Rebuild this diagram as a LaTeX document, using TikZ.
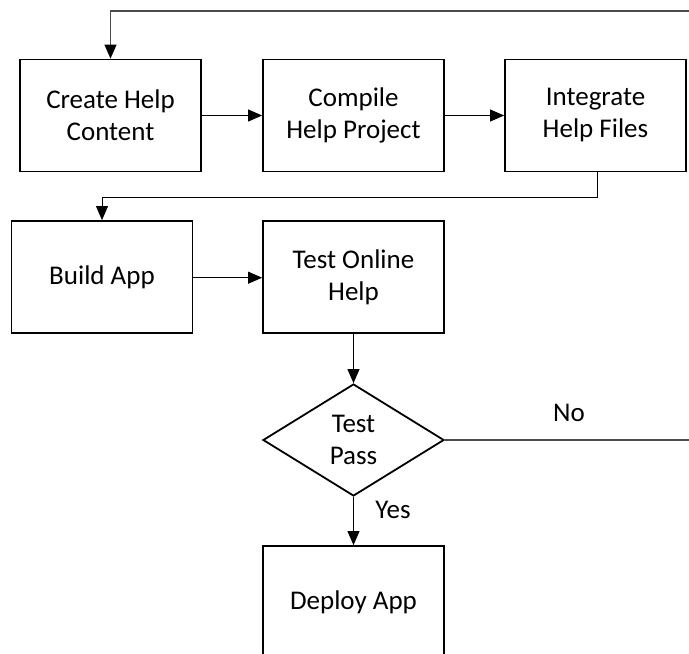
\documentclass[tikz,border=0pt]{standalone}
\usepackage{fontspec}
\setmainfont{Carlito}
\usetikzlibrary{shapes.geometric,arrows.meta}
\begin{document}
\begin{tikzpicture}[x=1pt,y=-1pt,
  every node/.style={font=\fontsize{27}{32}\selectfont},
  procbox/.style={draw=black,line width=1.8pt,rectangle,minimum width=181pt,minimum height=112pt,align=center,inner sep=0pt},
  decbox/.style={draw=black,line width=1.8pt,diamond,aspect=1.6,minimum width=181pt,minimum height=112pt,align=center,inner sep=0pt},
  conn/.style={draw=black,line width=0.9pt,-{Triangle[length=14pt,width=12pt]}},
  loopconn/.style={draw=black!70,line width=1.2pt,-{Triangle[length=14pt,width=12pt,color=black,fill=black]}},
  lbl/.style={inner sep=0pt}]
\useasboundingbox (0,0) rectangle (689,654);
\clip (0,0) rectangle (689,654);
\node[procbox] (b1) at (110.5,115.5) {Create Help\\Content};
\node[procbox] (b2) at (353.5,115.5) {Compile\\Help Project};
\node[procbox] (b3) at (595.5,115.5) {Integrate\\Help Files};
\node[procbox] (b4) at (102,277) {Build App};
\node[procbox] (b5) at (353.5,277) {Test Online\\Help};
\node[decbox] (d) at (353.5,440) {Test\\Pass};
\node[procbox] (b6) at (353.5,602) {Deploy App};
\coordinate (c1) at (720,440);
\coordinate (c2) at (720,11);
\coordinate (m1) at (597,197);
\node[lbl] (no) at (569,413) {No};
\node[lbl] (yes) at (393,510) {Yes};
\draw[conn] (b1) -- (b2);
\draw[conn] (b2) -- (b3);
\draw[conn] (b3.south -| m1) -- (m1) -| (b4.north);
\draw[conn] (b4.east |- 0,277.7) -- (b5.west |- 0,277.7);
\draw[conn] (b5) -- (d);
\draw[conn] (d) -- (b6);
\draw[loopconn] (d.east) -- (c1) -- (c2) -| (b1.north);
\end{tikzpicture}
\end{document}
